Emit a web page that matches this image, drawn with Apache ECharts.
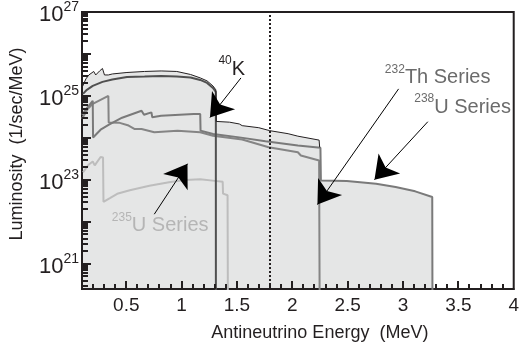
<!DOCTYPE html>
<html><head><meta charset="utf-8">
<script src="https://cdn.jsdelivr.net/npm/echarts@6/dist/echarts.min.js"></script>
<style>html,body{margin:0;padding:0;background:#fff}#c{width:522px;height:350px}</style>
</head><body><div id="c"></div>
<script>
// ---- tick labels ----
const xTickLabels = [0.5, 1, 1.5, 2, 2.5, 3, 3.5, 4];
const yTickExponents = [21, 23, 25, 27];

// ---- series data: energy (MeV) and luminosity (1/sec/MeV) ----
const totalE = [0.103,0.135,0.162,0.179,0.206,0.224,0.259,0.285,0.303,0.338,0.374,0.506,0.665,0.815,0.956,1.08,1.168,1.23,1.283,1.309,1.313,1.433,1.521,1.547,1.697,1.795,1.962,2.05,2.242,2.247];
const totalL = [1.64e25,2.54e25,3.16e25,2.86e25,3.83e25,3.16e25,3.94e25,4.51e25,3.16e25,3.16e25,3.34e25,3.62e25,3.83e25,3.94e25,3.83e25,3.25e25,2.69e25,2.28e25,1.73e25,1.40e25,2.47e24,2.37e24,2.15e24,1.96e24,1.75e24,1.49e24,1.26e24,1.10e24,8.87e23,5.98e23];

const k40E = [0.109,0.144,0.197,0.285,0.374,0.506,0.665,0.815,0.956,1.08,1.168,1.23,1.283,1.309,1.3095];
const k40L = [1.12e25,1.40e25,1.73e25,2.16e25,2.47e25,2.84e25,2.91e25,2.99e25,2.91e25,2.76e25,2.41e25,2.04e25,1.55e25,1.25e25,1e20];

const u238E = [0.1,0.153,0.197,0.2,0.268,0.344,0.462,0.638,0.653,0.66,0.727,0.735,0.815,1.109,1.168,1.171,1.285,1.521,1.757,2.05,2.254,2.258,2.492,2.757,2.933,3.11,3.264,3.266];
const u238L = [3.56e24,5.52e24,7.66e24,1.02e24,1.57e24,2.07e24,3.03e24,4.44e24,4.86e24,3.56e24,4.05e24,3.11e24,3.37e24,3.71e24,3.71e24,1.49e24,1.24e24,1.03e24,8.3e23,6.58e23,5.79e23,9.7e22,9.4e22,8.13e22,6.75e22,5.33e22,3.91e22,1e20];

const th232E = [0.1,0.153,0.197,0.338,0.341,0.433,0.521,0.577,0.638,0.753,0.962,1.168,1.283,1.547,1.786,2.05,2.077,2.242,2.247];
const th232L = [2.86e24,4.94e24,6.5e24,1.0e25,2.34e24,2.31e24,1.97e24,1.63e24,1.63e24,1.36e24,1.49e24,1.36e24,1.13e24,9.19e23,5.98e23,4.56e23,3.81e23,2.9e23,1e20];

const u235E = [0.109,0.162,0.197,0.215,0.268,0.29,0.294,0.356,0.418,0.532,0.541,0.709,0.886,1.036,1.168,1.3,1.371,1.374,1.415,1.418];
const u235L = [1.51e23,2.33e23,2.74e23,2.22e23,3.51e23,3.41e23,3.01e22,3.74e22,4.66e22,5.64e22,5.34e22,7.21e22,8.73e22,1.0e23,1.03e23,9.47e22,8.97e22,4.71e22,4.3e22,1e20];

const thresholdE = 1.8;

// ---- build ----
const FONT = '"Liberation Sans", Arial, Helvetica, sans-serif';
const INK = '#231f20';
const FILL = '#e5e6e6';
const lg = v => Math.log10(v);
const pts = (E, L) => E.map((e, i) => [e, lg(L[i])]);

const X_MIN = 0.1, X_MAX = 4;
const Y_MIN = 20.4, Y_MAX = 27;

// axis tick table: [x, y, isMajor, onYAxis]
const tickRows = [];
for (let i = 2; i < 40; i++) tickRows.push([i / 10, Y_MIN, i % 5 === 0 ? 1 : 0, 0]);
for (let n = 21; n <= 27; n++) {
  tickRows.push([X_MIN, n, 1, 1]);
  for (let k = 2; k <= 9; k++) { const v = n - 1 + Math.log10(k); if (v > Y_MIN) tickRows.push([X_MIN, v, 0, 1]); }
}
const tickShape = (px, py, major, onY) => {
  const len = onY ? (major ? 9 : 6) : (major ? 8 : 5);
  const x = Math.round(px), y = Math.round(py);
  return onY ? { x1: x, y1: y, x2: x + len, y2: y }
             : { x1: x, y1: y, x2: x, y2: y - len };
};

const lineSeries = (name, data, color, width, z) => ({
  name, type: 'line', data, showSymbol: false, symbol: 'none', smooth: false,
  lineStyle: { color, width }, z, silent: true, clip: true
});
const areaSeries = (data) => ({
  type: 'line', data, showSymbol: false, symbol: 'none', lineStyle: { width: 0 },
  areaStyle: { color: FILL, opacity: 1, origin: 'start' }, z: 0, silent: true, clip: true
});
const supRich = (color, base, sup, raise) => ({
  b: { fontSize: base, fontFamily: FONT, color },
  s: { fontSize: sup, fontFamily: FONT, color, padding: [0, 0, raise, 0] }
});
const ann = (coord, text, color) => ({
  coord, symbol: 'circle', symbolSize: 0,
  label: { show: true, position: 'inside', formatter: text, rich: supRich(color, 20, 12, 17) }
});
const arrow = (from, to) => [{ coord: from }, { coord: to }];

const chart = echarts.init(document.getElementById('c'));
chart.setOption({
  animation: false,
  grid: { left: 79, right: 1, top: 11, bottom: 61, show: true, borderColor: INK, borderWidth: 2 },
  xAxis: {
    type: 'value', min: X_MIN, max: X_MAX, position: 'bottom',
    axisLine: { show: true, lineStyle: { color: INK, width: 2 } },
    axisTick: { show: false },
    axisLabel: { customValues: xTickLabels, margin: 7, fontSize: 19, color: INK, fontFamily: FONT },
    splitLine: { show: false },
    name: 'Antineutrino Energy  (MeV)', nameLocation: 'middle', nameGap: 35,
    nameTextStyle: { fontSize: 18, color: INK, fontFamily: FONT, padding: [0, 0, 0, 44] }
  },
  yAxis: {
    type: 'value', min: Y_MIN, max: Y_MAX, position: 'left',
    axisLine: { show: true, lineStyle: { color: INK, width: 2 } },
    axisTick: { show: false },
    axisLabel: {
      customValues: yTickExponents, margin: 3, color: INK,
      formatter: v => '{b|10}{s|' + v + '}',
      rich: {
        b: { fontSize: 22, fontFamily: FONT, color: INK, padding: [6, 0, 0, 0] },
        s: { fontSize: 14, fontFamily: FONT, color: INK, padding: [0, 0, 10, 0] }
      }
    },
    splitLine: { show: false },
    name: 'Luminosity  (1/sec/MeV)', nameLocation: 'middle', nameGap: 56, nameRotate: 90,
    nameTextStyle: { fontSize: 18, color: INK, fontFamily: FONT, padding: [0, 0, 0, 13] }
  },
  series: [
    areaSeries(pts(totalE, totalL)),
    areaSeries(pts(u238E, u238L)),
    lineSeries('235U Series', pts(u235E, u235L), '#bdbdbd', 2, 2),
    lineSeries('232Th Series', pts(th232E, th232L), '#858585', 2, 2),
    lineSeries('238U Series', pts(u238E, u238L), '#7a7a7a', 2, 2),
    lineSeries('40K', pts(k40E, k40L), '#505050', 2, 2),
    Object.assign(lineSeries('Total', pts(totalE, totalL), INK, 1, 3), {
      markLine: {
        silent: true, symbol: 'none', label: { show: false }, animation: false,
        lineStyle: { type: [2, 2], color: INK, width: 2 },
        data: [{ xAxis: thresholdE }]
      }
    }),
    {
      type: 'custom', z: 10, clip: false, data: tickRows,
      renderItem: (params, api) => {
        const p = api.coord([api.value(0), api.value(1)]);
        return { type: 'line', shape: tickShape(p[0], p[1], api.value(2) === 1, api.value(3) === 1),
                 style: { stroke: INK, lineWidth: 2 } };
      }
    },
    {
      type: 'line', data: [], z: 6, silent: true,
      markLine: {
        silent: true, animation: false, symbol: ['none', 'arrow'], symbolSize: 22,
        label: { show: false }, lineStyle: { type: 'solid', color: '#000', width: 1 },
        data: [
          arrow([1.536, 25.429], [1.256, 24.488]),
          arrow([2.96, 25.168], [2.227, 22.412]),
          arrow([3.224, 24.386], [2.742, 23.005]),
          arrow([0.753, 22.182], [1.053, 23.384])
        ]
      },
      markPoint: {
        silent: true, animation: false,
        data: [
          ann([1.453, 25.63], '{s|40}{b|K}', INK),
          ann([3.313, 25.429], '{s|232}{b|Th Series}', '#6b6b6b'),
          ann([3.538, 24.73], '{s|238}{b|U Series}', '#6b6b6b'),
          ann([0.806, 21.905], '{s|235}{b|U Series}', '#b5b5b5')
        ]
      }
    }
  ]
});
</script>
</body></html>
